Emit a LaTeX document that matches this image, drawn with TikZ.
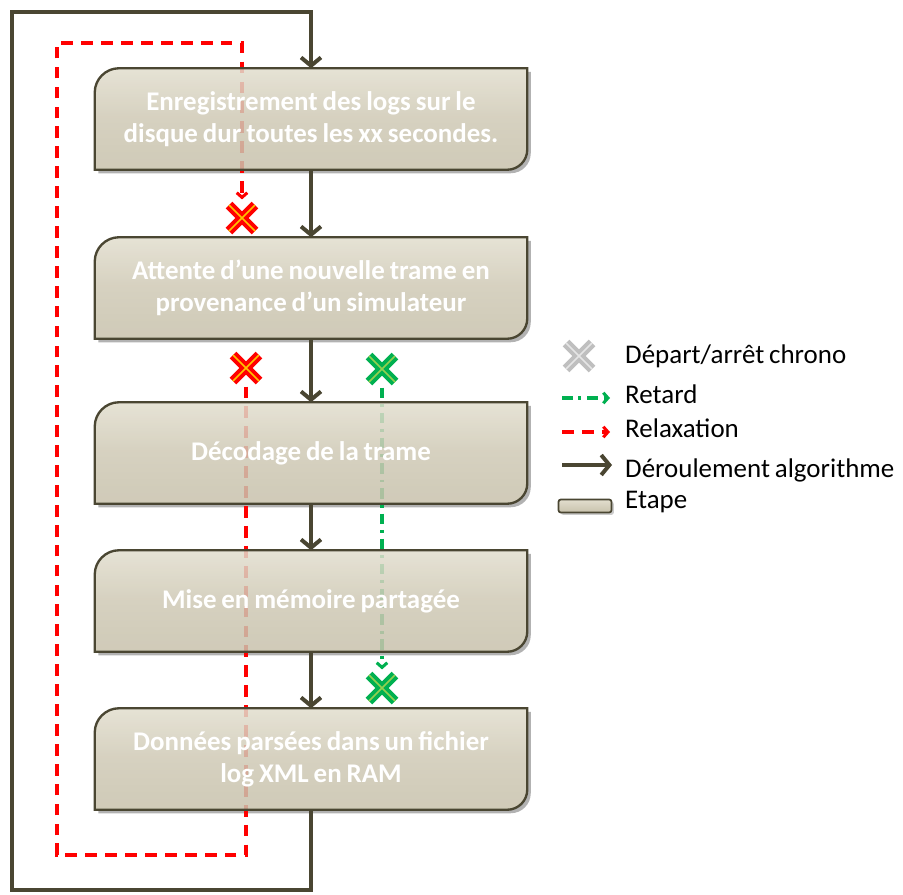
\documentclass[tikz,border=0pt]{standalone}
\usepackage{fontspec}
\setmainfont{Carlito}[WordSpace=0.8]
\usepackage{tikz}
\usetikzlibrary{arrows.meta,positioning,calc,backgrounds,shadows}
\definecolor{olivefonce}{RGB}{74,70,50}
\definecolor{etapehaut}{RGB}{226,222,206}
\definecolor{etapemilieu}{RGB}{207,201,181}
\definecolor{etapebas}{RGB}{200,194,172}
\definecolor{rougerelax}{RGB}{255,0,0}
\definecolor{orangecroix}{RGB}{255,192,0}
\definecolor{vertretard}{RGB}{0,176,80}
\definecolor{vertclair}{RGB}{146,208,80}
\definecolor{grischrono}{RGB}{191,191,191}

% contour of a step: top-left and bottom-right corners rounded
\newcommand{\contouretape}[2][]{%
  \path[#1] ($(#2.north west)+(0,24)$) .. controls ($(#2.north west)+(0,11)$) and ($(#2.north west)+(11,0)$) .. ($(#2.north west)+(24,0)$)
    -- (#2.north east) -- ($(#2.south east)+(0,-20)$)
    .. controls ($(#2.south east)+(0,-9)$) and ($(#2.south east)+(-9,0)$) .. ($(#2.south east)+(-20,0)$)
    -- (#2.south west) -- cycle;}

\tikzset{
  etape/.style={rectangle, inner sep=0pt, minimum width=12.96cm, minimum height=3.03cm,
    text width=12.4cm, align=flush center, text=white, font=\bfseries\fontsize{23}{27.5}\selectfont},
  fondetape/.style={draw=olivefonce, line width=2pt, top color=etapehaut, bottom color=etapebas,
    middle color=etapemilieu, fill opacity=0.85},
  blancetape/.style={fill=white},
  ombreetape/.style={fill=black, opacity=0.3, transform canvas={shift={(3pt,-3pt)}}},
  algo/.style={draw=olivefonce, line width=3.4pt, -{Straight Barb[length=7pt,width=17pt]}},
  relax/.style={draw=rougerelax, line width=2.6pt, dash pattern=on 10pt off 7pt,
    -{Straight Barb[length=4pt,width=9pt]}},
  retard/.style={draw=vertretard, line width=2.6pt, dash pattern=on 9pt off 5pt on 2.5pt off 5pt,
    -{Straight Barb[length=4pt,width=9pt]}},
  croix/.style 2 args={minimum size=11mm, inner sep=0pt, path picture={
      \begin{scope}[shift={(path picture bounding box.center)}]
        \draw[#1, line width=8pt] (-13,-13) -- (13,13) (-13,13) -- (13,-13);
        \draw[#2, line width=1.4pt] (-13,-13) -- (13,13) (-13,13) -- (13,-13);
      \end{scope}}},
  legende/.style={anchor=base west, inner sep=0pt, font=\fontsize{23}{27}\selectfont},
  etapemini/.style={rectangle, rounded corners=2pt, draw=olivefonce, line width=1.5pt,
    top color=etapehaut, bottom color=etapebas, minimum width=1.59cm, minimum height=0.39cm,
    drop shadow={shadow xshift=2pt,shadow yshift=-2pt,opacity=0.4}},
}

\begin{document}
\begin{tikzpicture}[x=0.03cm, y=-0.03cm]
    \useasboundingbox (0,0) rectangle (903,894);

    % the five steps
    \node[etape] (e1) at (311,119) {Enregistrement des logs sur le\\disque dur toutes les xx secondes.};
    \node[etape] (e2) at (311,288) {Attente d’une nouvelle trame en\\provenance d’un simulateur};
    \node[etape] (e3) at (311,453) {Décodage de la trame};
    \node[etape] (e4) at (311,601) {Mise en mémoire partagée};
    \node[etape] (e5) at (311,759) {Données parsées dans un fichier\\log XML en RAM};

    % chrono marks
    \node[croix={rougerelax}{orangecroix}] (r1) at (242,218) {};
    \node[croix={rougerelax}{orangecroix}] (r2) at (246,368) {};
    \node[croix={vertretard}{vertclair}] (v1) at (382,369) {};
    \node[croix={vertretard}{vertclair}] (v2) at (382,688) {};

    % loop corners
    \coordinate (bg) at (12,890);
    \coordinate (hg) at (12,12);
    \coordinate (rbg) at (57,855);
    \coordinate (rhg) at (57,43);

    \begin{pgfonlayer}{background}
        \foreach \n in {e1,e2,e3,e4,e5} {\contouretape[ombreetape]{\n}\contouretape[blancetape]{\n}}
        % relaxation and delay paths, seen through the steps
        \draw[relax] (r2.south) |- (rbg) -- (rhg) -| (r1.north);
        \draw[retard] (v1.south) -- (v2.north);
        \foreach \n in {e1,e2,e3,e4,e5} {\contouretape[fondetape]{\n}}
    \end{pgfonlayer}

    % algorithm flow
    \foreach \a/\b in {e1/e2,e2/e3,e3/e4,e4/e5}
        \draw[algo] (\a.south) -- (\b.north);
    \draw[algo] (e5.south) |- (bg) -- (hg) -| (e1.north);

    % legend
    \node[croix={grischrono}{gray!20}] (lchrono) at (579,356) {};
    \node[legende] (tchrono) at (625,363) {Départ/arrêt chrono};
    \coordinate (lr1) at (562,398);
    \coordinate (lr2) at (610,398);
    \draw[retard] (lr1) -- (lr2);
    \node[legende] (tretard) at (625,403) {Retard};
    \coordinate (lx1) at (562,432);
    \coordinate (lx2) at (610,432);
    \draw[relax] (lx1) -- (lx2);
    \node[legende] (trelax) at (625,437) {Relaxation};
    \coordinate (la1) at (562,465);
    \coordinate (la2) at (612,465);
    \draw[algo] (la1) -- (la2);
    \node[legende] (talgo) at (625,477) {Déroulement algorithme};
    \node[etapemini] (letape) at (585,506) {};
    \node[legende] (tetape) at (625,508) {Etape};
\end{tikzpicture}
\end{document}
